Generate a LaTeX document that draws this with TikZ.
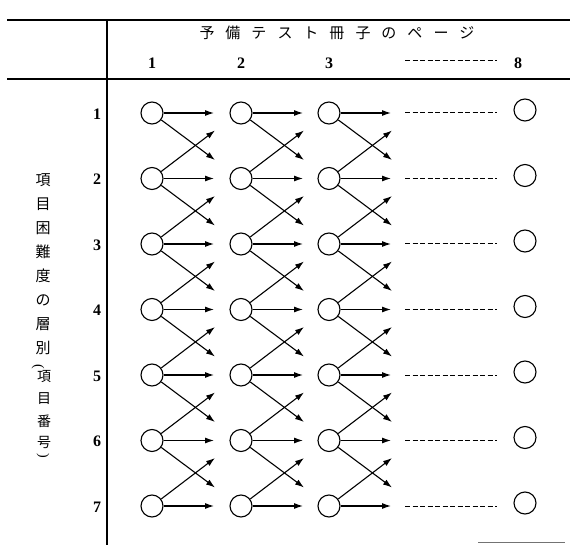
\documentclass[tikz,border=0pt]{standalone}
\usepackage{fontspec}
\setmainfont{Liberation Serif}
\newfontfamily\jp{Noto Sans CJK JP}
\usetikzlibrary{arrows.meta}
\begin{document}
\begin{tikzpicture}[x=1pt,y=-1pt,
  circ/.style={circle,draw,line width=1.1pt,minimum size=22pt,inner sep=0pt},
  arr/.style={line width=1.1pt,-{Latex[length=9pt,width=6pt]}},
  rule/.style={line width=1.4pt},
  dots/.style={line width=1pt,dash pattern=on 5pt off 2.5pt},
  num/.style={font=\bfseries\fontsize{16}{16}\selectfont,inner sep=0pt},
  jpch/.style={font=\jp\fontsize{15}{15}\selectfont,inner sep=0pt},
  jpsm/.style={font=\jp\fontsize{14}{14}\selectfont,inner sep=0pt},
  paren/.style={font=\fontsize{14}{14}\selectfont,inner sep=0pt,rotate=-90}]
\useasboundingbox (0,0) rectangle (570,545);
% frame
\coordinate (tl) at (7,20);  \coordinate (tr) at (570,20);
\coordinate (ml) at (7,79);  \coordinate (mr) at (570,79);
\coordinate (vt) at (107,20); \coordinate (vb) at (107,545);
\coordinate (bl) at (478,542); \coordinate (br) at (565,542);
\draw[rule] (tl) -- (tr);
\draw[rule] (ml) -- (mr);
\draw[rule] (vt) -- (vb);
\draw[line width=1pt,black!55] (bl) -- (br);
% header
\node[jpch] (title) at (337,33) {予\hspace{11pt}備\hspace{11pt}テ\hspace{11pt}ス\hspace{11pt}ト\hspace{11pt}冊\hspace{11pt}子\hspace{11pt}の\hspace{11pt}ペ\hspace{11pt}ー\hspace{11pt}ジ};
\node[num] (p1) at (152,63) {1};
\node[num] (p2) at (241,63) {2};
\node[num] (p3) at (329,63) {3};
\node[num] (p8) at (518,63) {8};
\coordinate (hd1) at (405,61); \coordinate (hd2) at (497,61);
\draw[dots] (hd1) -- (hd2);
% vertical label
\foreach \ch [count=\k from 0] in {項,目,困,難,度,の,層,別}
  \node[jpch] (v\k) at (43,{180+24*\k}) {\ch};
\node[paren] (vp1) at (38,367) {(};
\node[jpsm] (vp2) at (44,377) {項};
\node[jpsm] (vp3) at (44,399) {目};
\node[jpsm] (vp4) at (44,421) {番};
\node[jpsm] (vp5) at (44,442) {号};
\node[paren] (vp6) at (43,456) {)};
% rows
\foreach \r in {1,...,7}{
  \pgfmathsetmacro\y{113+65.5*(\r-1)}
  \node[num] (L\r) at (97,\y+1) {\r};
  \foreach \c/\x in {1/152,2/241,3/329}{
    \node[circ] (n\c\r) at (\x,\y) {};
    \coordinate (h\c\r) at (\x+62,\y);
    \draw[arr] (n\c\r) -- (h\c\r);
    \ifnum\r<7
      \coordinate (d\c\r) at (\x+63,\y+47);
      \draw[arr] (n\c\r) -- (d\c\r);
    \fi
    \ifnum\r>1
      \coordinate (u\c\r) at (\x+63,\y-48);
      \draw[arr] (n\c\r) -- (u\c\r);
    \fi
  }
  \coordinate (a\r) at (405,\y);
  \coordinate (b\r) at (497,\y);
  \draw[dots] (a\r) -- (b\r);
  \node[circ] (n8\r) at (525,\y-3) {};
}
\end{tikzpicture}
\end{document}
